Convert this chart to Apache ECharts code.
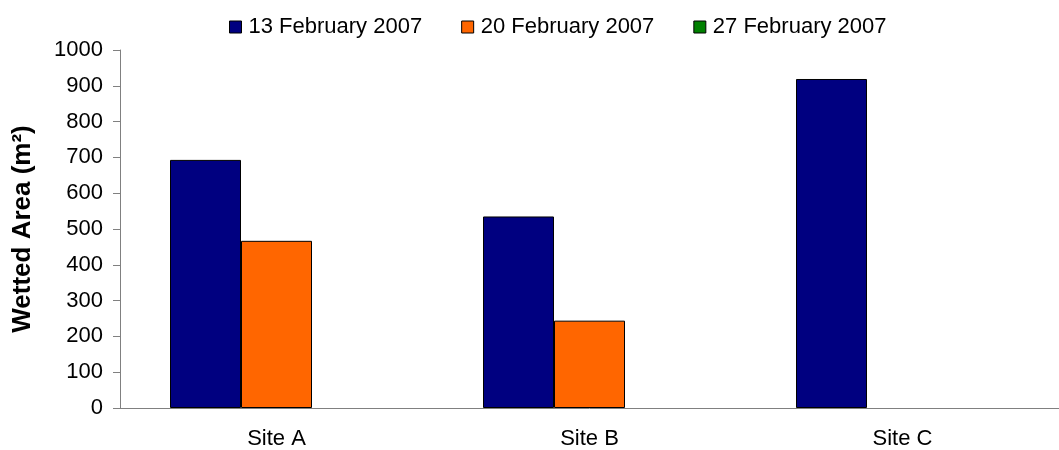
<!DOCTYPE html>
<html>
<head>
    <meta charset="UTF-8">
    <title>Wetted Area</title>
    <script src="https://cdn.jsdelivr.net/npm/echarts@6/dist/echarts.min.js"></script>
</head>
<body style="margin:0;background:#fff;">
<div id="main" style="width:1059px;height:450px;"></div>
<script type="text/javascript">
    // data
    var sites = ['Site A', 'Site B', 'Site C'];
    var dates = ['13 February 2007', '20 February 2007', '27 February 2007'];
    var feb13 = [693, 535, 919];
    var feb20 = [467, 244, null];
    var feb27 = [null, null, null];
    var yTicks = {min: 0, max: 1000, step: 100};

    var colors = ['#000080', '#FF6600', '#008000'];
    var font = 'Liberation Sans, Arial, sans-serif';

    function barSeries(name, data, i) {
        return {
            name: name,
            type: 'bar',
            data: data,
            barWidth: 71,
            barGap: '0%',
            itemStyle: {color: colors[i], borderColor: '#000', borderWidth: 1}
        };
    }

    var myChart = echarts.init(document.getElementById('main'));
    myChart.setOption({
        animation: false,
        textStyle: {fontFamily: font, color: '#000'},
        legend: {
            data: dates,
            left: 229,
            top: 16,
            padding: 0,
            itemWidth: 12,
            itemHeight: 12,
            itemGap: 39,
            icon: 'rect',
            itemStyle: {borderColor: '#000', borderWidth: 1},
            textStyle: {fontSize: 22, color: '#000', fontFamily: font, padding: [0, 0, 0, 2]}
        },
        grid: {left: 120, top: 50, width: 951, bottom: 41, containLabel: false},
        xAxis: {
            type: 'category',
            data: sites,
            axisLine: {lineStyle: {color: '#808080', width: 1}},
            axisTick: {length: 6, lineStyle: {color: '#808080'}},
            axisLabel: {fontSize: 22, color: '#000', margin: 20, fontFamily: font}
        },
        yAxis: {
            type: 'value',
            min: yTicks.min,
            max: yTicks.max,
            interval: yTicks.step,
            name: 'Wetted Area (m²)',
            nameLocation: 'middle',
            nameGap: 84,
            nameTextStyle: {fontSize: 26, fontWeight: 'bold', color: '#000', fontFamily: font},
            splitLine: {show: false},
            axisLine: {show: true, lineStyle: {color: '#808080', width: 1}},
            axisTick: {show: true, length: 7, lineStyle: {color: '#808080'}},
            axisLabel: {
                fontSize: 22, color: '#000', margin: 17, fontFamily: font,
                formatter: function (v) { return String(v); }
            }
        },
        series: [
            barSeries(dates[0], feb13, 0),
            barSeries(dates[1], feb20, 1),
            barSeries(dates[2], feb27, 2)
        ]
    });
</script>
</body>
</html>
